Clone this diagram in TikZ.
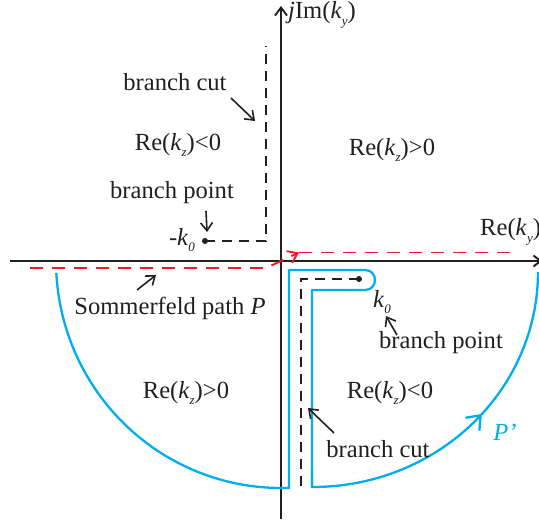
\documentclass[tikz,border=0pt]{standalone}
\usepackage{fontspec}
\setmainfont{Liberation Serif}
\usetikzlibrary{arrows.meta,decorations.markings}
\definecolor{cblue}{RGB}{0,174,239}
\definecolor{cred}{RGB}{237,28,36}
\definecolor{cblack}{RGB}{35,31,32}
\newcommand{\kk}[1]{\textit{k}\raisebox{-0.28em}{\fontsize{13}{13}\selectfont\textit{#1}}}
\begin{document}
\begin{tikzpicture}[x=1pt,y=-1pt,
  font=\fontsize{24.6}{28}\selectfont,
  lbl/.style={inner sep=0pt, text=cblack},
  axisline/.style={cblack, line width=1.9pt},
  cutline/.style={cblack, line width=1.9pt, dash pattern=on 10pt off 7pt},
  redpath/.style={cred, line width=1.9pt, dash pattern=on 13pt off 9pt},
  bluepath/.style={cblue, line width=2.3pt},
  ptr/.style={cblack, line width=1.6pt, -{Straight Barb[length=8pt,width=12pt]}},
  dotnode/.style={circle, fill=cblack, inner sep=0pt, minimum size=6pt}]
\useasboundingbox (0,0) rectangle (539,521);

% axes
\coordinate (hx0) at (10,261);
\coordinate (hx1) at (542,261);
\draw[axisline, -{Straight Barb[length=7pt,width=11pt]}] (hx0) -- (hx1);
\coordinate (vy0) at (281,519);
\coordinate (vy1) at (281,6);
\draw[axisline, -{Straight Barb[length=8pt,width=12pt]}] (vy0) -- (vy1);
\node[lbl, anchor=west] (im) at (288,15) {\textit{j}Im(\kk{y})};
\node[lbl, anchor=west] (rey) at (480,232) {Re(\kk{y})};

% left branch cut
\node[dotnode] (bp1) at (205,241) {};
\coordinate (c1) at (266,241);
\coordinate (c1top) at (266,46);
\draw[cutline] (bp1.center) -- (c1) -- (c1top);
\node[lbl] (mk0) at (182,240) {-\kk{0}};
\node[lbl] (bc1) at (175,82) {branch cut};
\coordinate (a1s) at (231,98);
\coordinate (a1e) at (255,121);
\draw[ptr] (a1s) -- (a1e);
\node[lbl] (rel1) at (178,145) {Re(\kk{z})<0};
\node[lbl] (bpt1) at (172,193) {branch point};
\coordinate (a2s) at (206,211);
\coordinate (a2e) at (207,232);
\draw[ptr] (a2s) -- (a2e);
\node[lbl] (rer1) at (392,150) {Re(\kk{z})>0};

% Sommerfeld path
\coordinate (r0) at (30,268);
\coordinate (r1) at (266,268);
\coordinate (r2) at (299,252.5);
\coordinate (r3) at (516,252.5);
\draw[redpath, -{Straight Barb[length=9pt,width=13pt]}] (r0) -- (r1) -- (r2);
\draw[redpath] (r2) -- (r3);
\node[lbl] (som) at (170,308) {Sommerfeld path \textit{P}};
\coordinate (a3s) at (137,290);
\coordinate (a3e) at (156,275);
\draw[ptr] (a3s) -- (a3e);

% deformed path P'
\draw[bluepath, line join=round]
  plot[domain=177:88.2, samples=80] ({281+225*cos(\x)},{261+227*sin(\x)})
  -- (289,488) -- (289,270) -- (365,270)
  .. controls (378.3,270) and (378.3,290) .. (365,290)
  -- (312,290) -- (312,487);
\draw[bluepath, postaction={decorate, decoration={markings,
    mark=at position 0.57 with {\arrow{Straight Barb[length=12pt,width=19pt]}}}}]
  (312,470) -- (312,487)
  -- plot[domain=90:0, samples=80] ({313+225*cos(\x)},{272+215*sin(\x)});
\node[lbl, text=cblue] (pp) at (505,432) {\textit{P'}};

% right branch cut
\node[dotnode] (bp2) at (359,279) {};
\coordinate (c2) at (301,279);
\coordinate (c2bot) at (301,487);
\draw[cutline] (bp2.center) -- (c2) -- (c2bot);
\node[lbl] (k0) at (382,302) {\kk{0}};
\coordinate (a4s) at (397,335);
\coordinate (a4e) at (386,316);
\draw[ptr] (a4s) -- (a4e);
\node[lbl] (bpt2) at (441,343) {branch point};
\node[lbl] (rel2) at (390,393) {Re(\kk{z})<0};
\node[lbl] (rer2) at (186,393) {Re(\kk{z})>0};
\node[lbl] (bc2) at (378,449) {branch cut};
\coordinate (a5s) at (334,433);
\coordinate (a5e) at (308,408);
\draw[ptr] (a5s) -- (a5e);
\end{tikzpicture}
\end{document}
